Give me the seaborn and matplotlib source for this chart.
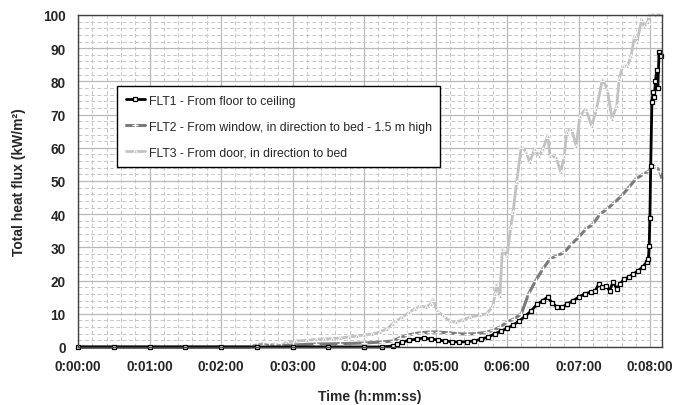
import numpy as np
import pandas as pd
import matplotlib
matplotlib.use("Agg")
import matplotlib.pyplot as plt
from matplotlib.ticker import FuncFormatter
import seaborn as sns

# Heat flux measurements (time in seconds, flux in kW/m²)
flt1_t = [0, 30, 60, 90, 120, 150, 180, 210, 240, 255, 264, 268, 272, 278, 284, 290,
          296, 302, 308, 314, 320, 326, 332, 338, 344, 350, 355, 360, 365, 370, 375,
          380, 385, 390, 394, 398, 402, 406, 410, 415, 420, 425, 430, 434, 437, 440,
          443, 446, 449, 452, 455, 458, 462, 466, 470, 474, 477, 478.5, 479.2, 479.8,
          480.5, 481.5, 482.5, 483.5, 484.5, 485.5, 486.5, 487.5, 488.5, 489.5]
flt1_v = [0, 0, 0, 0, 0, 0, 0, 0, 0, 0, 0.3, 0.9, 1.5, 2.0, 2.4, 2.7,
          2.4, 2.1, 1.8, 1.6, 1.5, 1.6, 1.8, 2.3, 3.0, 4.0, 4.8, 5.6, 6.6, 7.8, 9.2,
          10.8, 12.8, 14.0, 15.0, 13.2, 12.0, 12.0, 12.8, 13.9, 15.0, 16.0, 16.5, 17.0, 19.0, 18.0,
          18.4, 17.0, 19.6, 17.5, 19.0, 20.5, 21.0, 22.0, 23.0, 24.2, 25.5, 26.5, 30.4, 39.0,
          54.5, 73.8, 76.8, 75.3, 80.0, 83.4, 78.0, 88.9, 88.0, 87.5]

flt2_t = [0, 30, 60, 90, 120, 145, 150, 155, 160, 165, 170, 180, 200, 220, 240, 255,
          264, 270, 276, 282, 288, 295, 302, 310, 318, 326, 334, 342, 348, 354, 360,
          366, 372, 378, 384, 390, 396, 402, 408, 414, 420, 426, 432, 438, 444, 450,
          456, 462, 468, 474, 479, 482, 485, 488, 490]
flt2_v = [0, 0, 0, 0, 0, 0, 0.5, 0.6, 0.4, 0.2, 0.3, 0.6, 0.9, 1.0, 1.2, 1.5,
          1.8, 2.8, 3.5, 4.0, 4.3, 4.5, 4.5, 4.3, 4.0, 3.9, 4.0, 4.4, 5.0, 6.0, 7.5,
          8.5, 10.0, 16.0, 20.0, 23.5, 26.5, 27.5, 28.5, 31.0, 33.0, 35.5, 37.0, 40.0, 41.6, 43.5,
          45.5, 48.0, 50.6, 52.0, 53.0, 55.0, 54.5, 53.0, 50.6]

flt3_t = [0, 30, 60, 90, 120, 145, 150, 155, 160, 165, 170, 175, 182, 192, 200, 206,
          213, 220, 227, 234, 240, 247, 253, 259, 264, 267, 272, 278, 283, 287, 292,
          296, 298, 301, 306, 312, 317, 323, 329, 337, 343, 348, 350, 351, 354, 356,
          360, 363, 365, 368, 372, 376, 379, 383, 387, 390, 394, 396, 401, 405, 408,
          410, 414, 418, 421, 426, 431, 435, 440, 444, 448, 452, 454, 457, 461, 464,
          467, 469, 473, 475, 478, 479.5, 484, 490]
flt3_v = [0, 0, 0, 0, 0, 0, 0.8, 1.0, 0.6, 0.9, 0.3, 1.5, 1.8, 2.0, 2.3, 2.4,
          2.5, 2.7, 3.0, 3.3, 3.6, 3.9, 4.5, 5.4, 7.0, 7.8, 9.0, 10.5, 11.5, 12.3, 12.0,
          13.0, 14.5, 11.0, 9.5, 7.8, 7.5, 8.2, 9.0, 9.6, 10.0, 12.3, 16.0, 19.0, 15.4, 29.5,
          27.4, 36.0, 40.6, 49.7, 60.5, 58.7, 55.7, 59.6, 57.5, 59.6, 63.6, 57.5, 57.2, 52.7, 57.5,
          64.8, 65.7, 60.5, 69.6, 71.7, 66.6, 71.7, 80.7, 77.7, 68.7, 72.6, 80.7, 84.6, 84.6, 87.7,
          93.7, 91.9, 98.8, 96.4, 98.0, 100, 100, 100]

labels = ["FLT1 - From floor to ceiling",
          "FLT2 - From window, in direction to bed - 1.5 m high",
          "FLT3 - From door, in direction to bed"]

sns.set_style("white")
plt.rcParams["font.family"] = ["Liberation Sans", "DejaVu Sans"]

fig = plt.figure(figsize=(6.75, 4.06), dpi=100)
ax = fig.add_axes([0.1156, 0.1429, 0.8652, 0.8177])

series = [
    (flt1_t, flt1_v, labels[0], dict(color="black", marker="s", markersize=3.2,
                                     markerfacecolor="white", markeredgecolor="black",
                                     markeredgewidth=0.9, linewidth=2.0)),
    (flt2_t, flt2_v, labels[1], dict(color="#7a7a7a", marker="+", markersize=4,
                                     markeredgewidth=1.0, linewidth=2.2)),
    (flt3_t, flt3_v, labels[2], dict(color="#c2c2c2", marker="^", markersize=3,
                                     markeredgewidth=0.6, linewidth=2.0)),
]
# draw lightest first so the darker curves sit on top
for t, v, lab, style in reversed(series):
    df = pd.DataFrame({"t": t, "v": v})
    sns.lineplot(data=df, x="t", y="v", ax=ax, label=lab, estimator=None,
                 sort=False, clip_on=False, **style)

ax.set_xlim(0, 490)
ax.set_ylim(0, 100)
ax.set_xticks(np.arange(0, 481, 60))
ax.set_xticks(np.arange(0, 491, 12), minor=True)
ax.set_yticks(np.arange(0, 101, 10))
ax.set_yticks(np.arange(0, 101, 2), minor=True)


def hms(x, pos):
    s = int(round(x))
    return f"{s // 3600}:{(s % 3600) // 60:02d}:{s % 60:02d}"


ax.xaxis.set_major_formatter(FuncFormatter(hms))
ax.grid(which="major", color="#b8b8b8", linewidth=0.9, linestyle="-")
ax.grid(which="minor", color="#c8c8c8", linewidth=0.7, linestyle=(0, (4, 2.5)))
ax.set_axisbelow(True)

ax.tick_params(which="major", direction="out", length=4, width=0.8, color="#404040",
               labelsize=9.8, pad=5)
ax.tick_params(which="minor", length=0)
for lab in ax.get_xticklabels() + ax.get_yticklabels():
    lab.set_fontweight("bold")
for sp in ax.spines.values():
    sp.set_color("#404040")
    sp.set_linewidth(1.0)

ax.set_xlabel("Time (h:mm:ss)", fontsize=10, fontweight="bold", labelpad=11)
ax.set_ylabel("Total heat flux (kW/m²)", fontsize=10, fontweight="bold", labelpad=12)

handles, labs = ax.get_legend_handles_labels()
order = [labs.index(l) for l in labels]
leg = ax.legend([handles[i] for i in order], [labs[i] for i in order],
                loc="upper left", bbox_to_anchor=(0.067, 0.786), borderaxespad=0,
                fontsize=8.8, frameon=True, fancybox=False, framealpha=1,
                edgecolor="black", labelspacing=1.15, handlelength=1.6,
                handletextpad=0.3, borderpad=0.7, numpoints=1)
leg.get_frame().set_linewidth(1.0)

fig.savefig("out.png", dpi=100)
